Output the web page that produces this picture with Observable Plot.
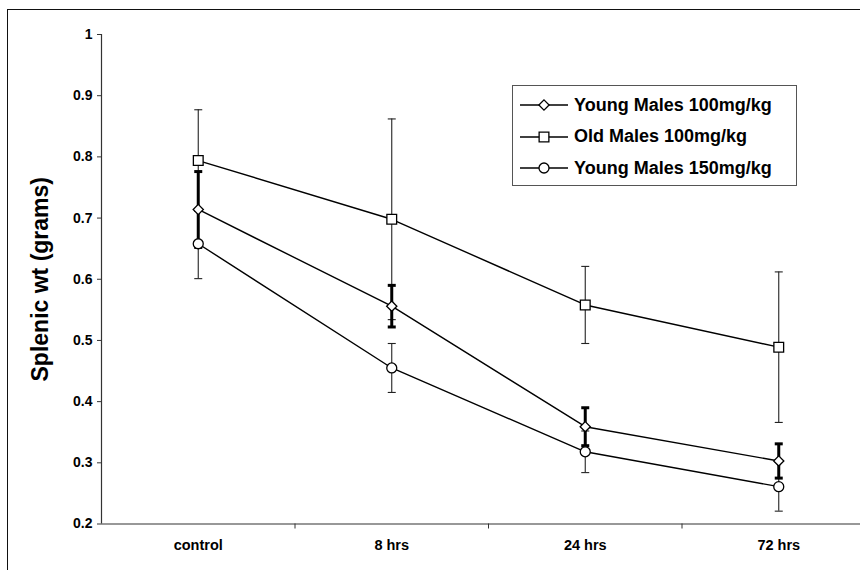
<!DOCTYPE html>
<html>
<head>
<meta charset="utf-8">
<script src="https://cdn.jsdelivr.net/npm/d3@7"></script>
<script src="https://cdn.jsdelivr.net/npm/@observablehq/plot@0.6"></script>
<style>
  html, body { margin: 0; padding: 0; background: #fff; }
  #wrap { position: relative; width: 860px; height: 570px; overflow: hidden; font-family: "Liberation Sans", Arial, sans-serif; }
  #frame { position: absolute; left: 7px; top: 9px; width: 900px; height: 600px; border-left: 1.5px solid #111; border-top: 1.5px solid #111; box-sizing: border-box; pointer-events: none; }
  #legend { position: absolute; left: 512px; top: 85px; width: 285px; height: 101px; border: 1.3px solid #555; box-sizing: border-box; background: #fff; }
  .row { position: absolute; left: 5px; height: 24px; display: flex; align-items: center; font-weight: bold; font-size: 18px; color: #000; white-space: nowrap; }
  .row svg { margin-right: 4px; }
</style>
</head>
<body>
<div id="wrap">
  <div id="chart"></div>
  <div id="frame"></div>
  <div id="legend"></div>
</div>
<script>
// ---- data ----
const categories = ["control", "8 hrs", "24 hrs", "72 hrs"];
const seriesNames = ["Young Males 100mg/kg", "Old Males 100mg/kg", "Young Males 150mg/kg"];
const youngMales100 = [0.714, 0.556, 0.359, 0.303];
const youngMales100Err = [0.062, 0.034, 0.031, 0.028];
const oldMales100 = [0.794, 0.698, 0.558, 0.489];
const oldMales100Err = [0.083, 0.164, 0.063, 0.123];
const youngMales150 = [0.658, 0.455, 0.318, 0.261];
const youngMales150Err = [0.057, 0.040, 0.034, 0.040];
const yTicks = [0.2, 0.3, 0.4, 0.5, 0.6, 0.7, 0.8, 0.9, 1];
const yLabel = "Splenic wt (grams)";

const seriesValues = [youngMales100, oldMales100, youngMales150];
const seriesErrs = [youngMales100Err, oldMales100Err, youngMales150Err];
const seriesSymbols = ["diamond2", "square", "circle"];
const seriesR = [4.6, 5.5, 5];

const rows = [];
seriesNames.forEach((s, k) => {
  categories.forEach((c, i) => {
    const v = seriesValues[k][i], e = seriesErrs[k][i];
    rows.push({series: s, k, i, value: v, lo: v - e, hi: v + e});
  });
});
const thick = rows.filter(d => d.k === 0);
const thin = rows.filter(d => d.k !== 0);

const cap = {draw(ctx) { ctx.moveTo(-4, 0); ctx.lineTo(4, 0); }};

const marks = [
  Plot.ruleX([-0.5], {stroke: "#333", strokeWidth: 1.2}),
  Plot.ruleY([0.2], {stroke: "#333", strokeWidth: 1.2}),
  Plot.axisY({ticks: yTicks, tickSize: 4, tickPadding: 5, tickFormat: d3.format("~g"), fontSize: 14, fontWeight: "bold", label: null, stroke: "#333"}),
  Plot.axisX({ticks: [0.5, 1.5, 2.5], tickSize: 5, tickFormat: () => "", label: null, stroke: "#333"}),
  Plot.axisX({ticks: [0, 1, 2, 3], tickSize: 0, tickPadding: 16, tickFormat: i => categories[i], fontSize: 14.5, fontWeight: "bold", label: null}),
  Plot.text([yLabel], {frameAnchor: "left", textAnchor: "middle", rotate: -90, dx: -61, fontSize: 23, fontWeight: "bold", fill: "#000"}),
  Plot.line(rows, {x: "i", y: "value", z: "series", stroke: "#000", strokeWidth: 1.4}),
  Plot.ruleX(thin, {x: "i", y1: "lo", y2: "hi", stroke: "#222", strokeWidth: 1.1}),
  Plot.dot(thin, {x: "i", y: "hi", symbol: cap, r: 4, stroke: "#222", fill: "none", strokeWidth: 1.1}),
  Plot.dot(thin, {x: "i", y: "lo", symbol: cap, r: 4, stroke: "#222", fill: "none", strokeWidth: 1.1}),
  Plot.ruleX(thick, {x: "i", y1: "lo", y2: "hi", stroke: "#000", strokeWidth: 3}),
  Plot.dot(thick, {x: "i", y: "hi", symbol: cap, r: 4, stroke: "#000", fill: "none", strokeWidth: 3}),
  Plot.dot(thick, {x: "i", y: "lo", symbol: cap, r: 4, stroke: "#000", fill: "none", strokeWidth: 3})
];
seriesNames.forEach((s, k) => {
  marks.push(Plot.dot(rows.filter(d => d.k === k), {x: "i", y: "value", symbol: seriesSymbols[k], r: seriesR[k], fill: "#fff", stroke: "#000", strokeWidth: 1.3}));
});

const chart = Plot.plot({
  width: 860,
  height: 570,
  marginLeft: 101,
  marginRight: 0,
  marginTop: 34,
  marginBottom: 46.5,
  style: {fontFamily: "'Liberation Sans', Arial, sans-serif", background: "transparent", color: "#000"},
  x: {type: "linear", domain: [-0.5, 3.5], range: [101, 875]},
  y: {domain: [0.2, 1], range: [523.5, 34]},
  marks
});
document.getElementById("chart").appendChild(chart);

// legend
const legend = document.getElementById("legend");
const symPaths = seriesSymbols.map((name, k) => {
  const sym = {diamond2: d3.symbolDiamond2, square: d3.symbolSquare, circle: d3.symbolCircle}[name];
  return d3.symbol(sym, seriesR[k] * seriesR[k] * Math.PI)();
});
seriesNames.forEach((s, k) => {
  const row = document.createElement("div");
  row.className = "row";
  row.style.top = (7 + k * 31.5) + "px";
  row.innerHTML = `<svg width="52" height="16"><line x1="2" x2="50" y1="8" y2="8" stroke="#000" stroke-width="1.4"/><path d="${symPaths[k]}" transform="translate(26,8)" fill="#fff" stroke="#000" stroke-width="1.3"/></svg><span>${s}</span>`;
  legend.appendChild(row);
});
</script>
</body>
</html>
